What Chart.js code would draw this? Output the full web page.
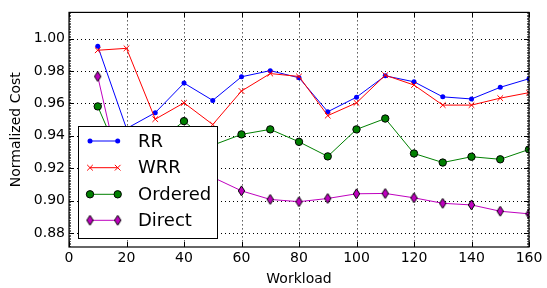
<!DOCTYPE html>
<html>
<head>
<meta charset="utf-8">
<script src="https://cdn.jsdelivr.net/npm/chart.js@4.4.0/dist/chart.umd.min.js"></script>
<style>
html,body{margin:0;padding:0;background:#fff;}
#wrap{width:547px;height:288px;position:relative;}
</style>
</head>
<body>
<div id="wrap"><canvas id="c" width="547" height="288"></canvas></div>
<script>
// ---- data ----
const workload = [10, 20, 30, 40, 50, 60, 70, 80, 90, 100, 110, 120, 130, 140, 150, 160];
const rr       = [0.9954, 0.9445, 0.9543, 0.9726, 0.9619, 0.9765, 0.9803, 0.9759, 0.9549, 0.9639, 0.9771, 0.9734, 0.9641, 0.9628, 0.9700, 0.9753];
const wrr      = [0.9929, 0.9941, 0.9503, 0.9604, 0.9470, 0.9677, 0.9785, 0.9767, 0.9525, 0.9604, 0.9775, 0.9714, 0.9590, 0.9590, 0.9633, 0.9667];
const ordered  = [0.9582, 0.9170, 0.9350, 0.9491, 0.9342, 0.9409, 0.9440, 0.9363, 0.9273, 0.9440, 0.9507, 0.9291, 0.9235, 0.9271, 0.9255, 0.9316];
const direct   = [0.9767, 0.8990, 0.9060, 0.9120, 0.9144, 0.9060, 0.9007, 0.8993, 0.9013, 0.9042, 0.9044, 0.9017, 0.8983, 0.8973, 0.8934, 0.8918];
const seriesNames = ['RR', 'WRR', 'Ordered', 'Direct'];
const xTicks = [0, 20, 40, 60, 80, 100, 120, 140, 160];
const yTicks = [0.88, 0.90, 0.92, 0.94, 0.96, 0.98, 1.00];

// thin diamond marker
function makeDiamond(hw, hh, fill) {
  const cv = document.createElement('canvas');
  cv.width = Math.ceil(hw * 2 + 2); cv.height = Math.ceil(hh * 2 + 2);
  const c = cv.getContext('2d');
  const cx = cv.width / 2, cy = cv.height / 2;
  c.beginPath();
  c.moveTo(cx, cy - hh); c.lineTo(cx + hw, cy); c.lineTo(cx, cy + hh); c.lineTo(cx - hw, cy); c.closePath();
  c.fillStyle = fill; c.fill();
  c.lineWidth = 1; c.strokeStyle = '#000'; c.stroke();
  return cv;
}
const diamond = makeDiamond(3.2, 5, '#bf00bf');

const toXY = arr => arr.map((v, i) => ({x: workload[i], y: v}));

const datasets = [
  {label: seriesNames[0], data: toXY(rr), borderColor: '#0000ff', backgroundColor: '#0000ff', borderWidth: 1,
   pointStyle: 'circle', pointRadius: 2.5, pointBorderColor: '#0000ff', pointBorderWidth: 0, order: 3},
  {label: seriesNames[1], data: toXY(wrr), borderColor: '#ff0000', backgroundColor: '#ff0000', borderWidth: 1,
   pointStyle: 'crossRot', pointRadius: 4, pointBorderColor: '#ff0000', pointBorderWidth: 1, order: 2},
  {label: seriesNames[2], data: toXY(ordered), borderColor: '#008000', backgroundColor: '#008000', borderWidth: 1,
   pointStyle: 'circle', pointRadius: 3.7, pointBorderColor: '#000', pointBorderWidth: 1, order: 1},
  {label: seriesNames[3], data: toXY(direct), borderColor: '#bf00bf', backgroundColor: '#bf00bf', borderWidth: 1,
   pointStyle: diamond, pointRadius: 5, pointBorderColor: '#000', pointBorderWidth: 1, order: 0}
];

const LEFT = 69, RIGHT = 18, TOP = 9, BOTTOM = 41;

const gridPlugin = {
  id: 'dotgrid',
  beforeDatasetsDraw(chart) {
    const ctx = chart.ctx, a = chart.chartArea;
    const xs = chart.scales.x, ys = chart.scales.y;
    ctx.save();
    ctx.strokeStyle = '#000'; ctx.lineWidth = 1;
    ctx.setLineDash([1, 3]);
    yTicks.forEach(v => {
      const y = Math.round(ys.getPixelForValue(v)) + 0.5;
      ctx.beginPath(); ctx.moveTo(a.left, y); ctx.lineTo(a.right, y); ctx.stroke();
    });
    xTicks.forEach(v => {
      const x = Math.round(xs.getPixelForValue(v)) + 0.5;
      ctx.beginPath(); ctx.moveTo(x, a.top); ctx.lineTo(x, a.bottom); ctx.stroke();
    });
    ctx.restore();
  }
};

const framePlugin = {
  id: 'frame',
  afterDatasetsDraw(chart) {
    const ctx = chart.ctx, a = chart.chartArea;
    const xs = chart.scales.x, ys = chart.scales.y;
    ctx.save();
    ctx.setLineDash([]);
    // minor ticks on left/right
    ctx.strokeStyle = '#000'; ctx.lineWidth = 0.6;
    for (let v = 0.872; v < 1.0163; v += 0.001) {
      const y = Math.round(ys.getPixelForValue(v)) + 0.5;
      ctx.beginPath(); ctx.moveTo(a.left, y); ctx.lineTo(a.left + 2, y); ctx.stroke();
      ctx.beginPath(); ctx.moveTo(a.right, y); ctx.lineTo(a.right - 2, y); ctx.stroke();
    }
    ctx.lineWidth = 1;
    // major ticks inward
    yTicks.forEach(v => {
      const y = Math.round(ys.getPixelForValue(v)) + 0.5;
      ctx.beginPath(); ctx.moveTo(a.left, y); ctx.lineTo(a.left + 5, y); ctx.stroke();
      ctx.beginPath(); ctx.moveTo(a.right, y); ctx.lineTo(a.right - 5, y); ctx.stroke();
    });
    xTicks.forEach(v => {
      const x = Math.round(xs.getPixelForValue(v)) + 0.5;
      ctx.beginPath(); ctx.moveTo(x, a.bottom); ctx.lineTo(x, a.bottom - 5); ctx.stroke();
      ctx.beginPath(); ctx.moveTo(x, a.top); ctx.lineTo(x, a.top + 5); ctx.stroke();
    });
    // border
    ctx.lineWidth = 1.2;
    ctx.strokeRect(a.left, a.top, a.right - a.left, a.bottom - a.top);

    // legend
    const bx = 78, by = 126, bw = 139, bh = 112;
    ctx.fillStyle = '#fff';
    ctx.fillRect(bx, by, bw, bh);
    ctx.lineWidth = 1; ctx.strokeStyle = '#000';
    ctx.strokeRect(bx + 0.5, by + 0.5, bw, bh);
    const rows = [141, 167.7, 194.3, 220.3];
    const x1 = 90, x2 = 117.7;
    datasets.forEach((ds, i) => {
      const y = rows[i];
      ctx.strokeStyle = ds.borderColor; ctx.lineWidth = 1;
      ctx.beginPath(); ctx.moveTo(x1, y); ctx.lineTo(x2, y); ctx.stroke();
      [x1, x2].forEach(px => {
        ctx.fillStyle = ds.backgroundColor;
        ctx.strokeStyle = ds.pointBorderColor;
        ctx.lineWidth = ds.pointBorderWidth;
        Chart.helpers.drawPoint(ctx, {
          pointStyle: ds.pointStyle, radius: ds.pointRadius, rotation: 0,
          borderWidth: ds.pointBorderWidth
        }, px, y);
      });
      ctx.fillStyle = '#000';
      ctx.font = '18px "DejaVu Sans"';
      ctx.textBaseline = 'middle'; ctx.textAlign = 'left';
      ctx.fillText(ds.label, 138, y + 1);
    });
    ctx.restore();
  }
};

Chart.defaults.font.family = '"DejaVu Sans"';
Chart.defaults.color = '#000';

new Chart(document.getElementById('c'), {
  type: 'line',
  data: {datasets},
  options: {
    responsive: false,
    animation: false,
    devicePixelRatio: 1,
    layout: {padding: {left: 0, right: RIGHT, top: TOP, bottom: 0}},
    plugins: {legend: {display: false}, tooltip: {enabled: false}},
    elements: {line: {tension: 0}},
    scales: {
      x: {
        type: 'linear', min: 0, max: 160,
        afterBuildTicks: s => { s.ticks = xTicks.map(v => ({value: v})); },
        afterFit: s => { s.height = BOTTOM; },
        ticks: {font: {size: 14}, padding: 3, maxRotation: 0, callback: v => String(v)},
        grid: {display: false, drawTicks: false, tickLength: 0},
        border: {display: false},
        title: {display: true, text: 'Workload', font: {size: 14}, padding: {top: 0, bottom: 0}}
      },
      y: {
        type: 'linear', min: 0.8713, max: 1.0163,
        afterBuildTicks: s => { s.ticks = yTicks.map(v => ({value: v})); },
        afterFit: s => { s.width = LEFT; },
        ticks: {font: {size: 14}, padding: 4, callback: v => v.toFixed(2)},
        grid: {display: false, drawTicks: false, tickLength: 0},
        border: {display: false},
        title: {display: true, text: 'Normalized Cost', font: {size: 14}, padding: {top: 8, bottom: 0}}
      }
    }
  },
  plugins: [gridPlugin, framePlugin]
});
</script>
</body>
</html>
